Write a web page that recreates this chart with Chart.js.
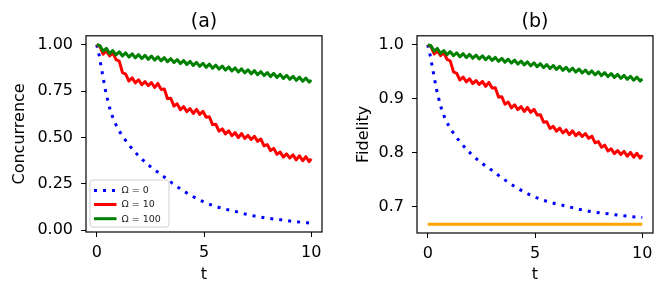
<!DOCTYPE html>
<html>
<head>
<meta charset="utf-8">
<script src="https://cdn.jsdelivr.net/npm/chart.js@4.4.0/dist/chart.umd.min.js"></script>
<style>
  html, body { margin: 0; padding: 0; background: #fff; }
  #wrap { position: relative; width: 665px; height: 297px; }
  canvas { position: absolute; top: 0; }
</style>
</head>
<body>
<div id="wrap">
  <canvas id="chartA" width="332" height="297" style="left:0"></canvas>
  <canvas id="chartB" width="333" height="297" style="left:332px"></canvas>
</div>
<script>
const FONT = 'DejaVu Sans';

// time grid for the oscillating curves
const tFast = [0,0.15,0.3,0.45,0.6,0.75,0.9,1.05,1.2,1.35,1.5,1.65,1.8,1.95,2.1,2.25,2.4,2.55,2.7,2.85,
  3,3.15,3.3,3.45,3.6,3.75,3.9,4.05,4.2,4.35,4.5,4.65,4.8,4.95,5.1,5.25,5.4,5.55,5.7,5.85,
  6,6.15,6.3,6.45,6.6,6.75,6.9,7.05,7.2,7.35,7.5,7.65,7.8,7.95,8.1,8.25,8.4,8.55,8.7,8.85,
  9,9.15,9.3,9.45,9.6,9.75,9.9,10];
// time grid for the smooth decay (Omega = 0)
const tSlow = [0,0.1,0.2,0.3,0.4,0.5,0.6,0.75,1,1.25,1.5,2,2.5,3,3.5,4,4.5,5,5.5,6,6.5,7,7.5,8,8.5,9,9.5,10];
const tLimit = [0, 10];

// (a) concurrence
const concOmega0 = [1.0,0.95,0.885,0.822,0.757,0.707,0.66,0.607,0.545,0.50,0.46,0.395,0.343,0.30,
  0.255,0.215,0.18,0.152,0.130,0.113,0.100,0.085,0.073,0.064,0.057,0.049,0.043,0.038];
const concOmega10 = [1.000,0.991,0.949,0.966,0.939,0.956,0.919,0.911,0.849,0.841,0.804,0.821,0.794,0.811,
  0.784,0.801,0.779,0.796,0.769,0.791,0.759,0.761,0.709,0.711,0.669,0.681,0.649,0.666,0.639,0.656,
  0.629,0.651,0.624,0.641,0.609,0.611,0.569,0.571,0.534,0.546,0.519,0.536,0.509,0.526,0.499,0.521,
  0.494,0.511,0.489,0.506,0.479,0.491,0.454,0.461,0.429,0.441,0.409,0.421,0.394,0.411,0.389,0.406,
  0.379,0.401,0.374,0.396,0.369,0.385];
const concOmega100 = [1.000,0.995,0.965,0.980,0.952,0.968,0.945,0.962,0.939,0.956,0.933,0.951,0.929,0.947,
  0.925,0.943,0.921,0.939,0.917,0.935,0.913,0.930,0.908,0.925,0.903,0.920,0.898,0.915,0.893,0.910,
  0.888,0.905,0.883,0.900,0.878,0.895,0.873,0.890,0.868,0.885,0.863,0.880,0.858,0.875,0.853,0.870,
  0.848,0.865,0.843,0.860,0.838,0.855,0.833,0.850,0.828,0.845,0.823,0.840,0.818,0.835,0.813,0.830,
  0.808,0.825,0.803,0.820,0.798,0.810];

// (b) fidelity
const fidOmega0 = [1.0,0.9833,0.9617,0.9407,0.919,0.9023,0.8867,0.869,0.8483,0.8333,0.82,0.7983,0.781,0.7667,
  0.7517,0.7383,0.7267,0.7173,0.71,0.7043,0.70,0.695,0.691,0.688,0.6857,0.683,0.681,0.6793];
const fidOmega10 = [1.0000,0.9970,0.9830,0.9887,0.9797,0.9853,0.9730,0.9703,0.9497,0.9470,0.9347,0.9403,
  0.9313,0.9370,0.9280,0.9337,0.9263,0.9320,0.9230,0.9303,0.9197,0.9203,0.9030,0.9037,0.8897,0.8937,
  0.8830,0.8887,0.8797,0.8853,0.8763,0.8837,0.8747,0.8803,0.8697,0.8703,0.8563,0.8570,0.8447,0.8487,
  0.8397,0.8453,0.8363,0.8420,0.8330,0.8403,0.8313,0.8370,0.8297,0.8353,0.8263,0.8303,0.8180,0.8203,
  0.8097,0.8137,0.8030,0.8070,0.7980,0.8037,0.7963,0.8020,0.7930,0.8003,0.7913,0.7987,0.7897,0.7950];
const fidOmega100 = [1.0000,0.9983,0.9883,0.9933,0.9840,0.9893,0.9817,0.9873,0.9797,0.9853,0.9777,0.9837,
  0.9763,0.9823,0.9750,0.9810,0.9737,0.9797,0.9723,0.9783,0.9710,0.9767,0.9693,0.9750,0.9677,0.9733,
  0.9660,0.9717,0.9643,0.9700,0.9627,0.9683,0.9610,0.9667,0.9593,0.9650,0.9577,0.9633,0.9560,0.9617,
  0.9543,0.9600,0.9527,0.9583,0.9510,0.9567,0.9493,0.9550,0.9477,0.9533,0.9460,0.9517,0.9443,0.9500,
  0.9427,0.9483,0.9410,0.9467,0.9393,0.9450,0.9377,0.9433,0.9360,0.9417,0.9343,0.9400,0.9327,0.9367];
const fidLimit = [0.6667, 0.6667];

const xTicks = [0, 5, 10];
const yTicksA = [0, 0.25, 0.5, 0.75, 1.0];
const yTicksB = [0.7, 0.8, 0.9, 1.0];
const legendLabels = ['\u03A9 = 0', '\u03A9 = 10', '\u03A9 = 100'];

const BLUE = '#0000ff', RED = '#ff0000', GREEN = '#008000', ORANGE = '#ffa500';

function line(label, xs, ys, color, extra) {
  return Object.assign({
    label: label,
    data: xs.map((x, i) => ({x: x, y: ys[i]})),
    borderColor: color,
    backgroundColor: color,
    borderWidth: 3,
    pointRadius: 0,
    fill: false,
    tension: 0,
    borderJoinStyle: 'round'
  }, extra || {});
}

const dotted = {borderDash: [3, 6], borderCapStyle: 'butt', cubicInterpolationMode: 'monotone'};

// black box round the plot, like matplotlib spines
const frame = {
  id: 'frame',
  afterDatasetsDraw(chart) {
    const {ctx, chartArea: a} = chart;
    ctx.save();
    ctx.strokeStyle = '#000';
    ctx.lineWidth = 1.2;
    ctx.strokeRect(a.left, a.top, a.right - a.left, a.bottom - a.top);
    ctx.restore();
  }
};

// legend drawn inside the plot, lower left
const insideLegend = {
  id: 'insideLegend',
  afterDraw(chart) {
    const {ctx, chartArea: a} = chart;
    const x = a.left + 4, w = 79, h = 47, y = a.bottom - 5 - h, r = 3;
    ctx.save();
    ctx.beginPath();
    ctx.moveTo(x + r, y);
    ctx.arcTo(x + w, y, x + w, y + h, r);
    ctx.arcTo(x + w, y + h, x, y + h, r);
    ctx.arcTo(x, y + h, x, y, r);
    ctx.arcTo(x, y, x + w, y, r);
    ctx.closePath();
    ctx.fillStyle = 'rgba(255,255,255,0.8)';
    ctx.fill();
    ctx.strokeStyle = '#d0d0d0';
    ctx.lineWidth = 1;
    ctx.stroke();

    const rows = [y + 10.5, y + 24.5, y + 38.7];
    chart.data.datasets.slice(0, 3).forEach((ds, i) => {
      ctx.beginPath();
      ctx.strokeStyle = ds.borderColor;
      ctx.lineWidth = 3;
      ctx.setLineDash(ds.borderDash || []);
      ctx.lineCap = 'butt';
      ctx.moveTo(x + 4, rows[i]);
      ctx.lineTo(x + 26.5, rows[i]);
      ctx.stroke();
      ctx.setLineDash([]);
      ctx.fillStyle = '#222';
      ctx.font = '9.5px "' + FONT + '"';
      ctx.textBaseline = 'middle';
      ctx.textAlign = 'left';
      ctx.fillText(legendLabels[i], x + 31.5, rows[i] + 0.5);
    });
    ctx.restore();
  }
};

function xScale(height) {
  return {
    type: 'linear',
    min: -0.5,
    max: 10.5,
    afterBuildTicks: s => { s.ticks = xTicks.map(v => ({value: v})); },
    afterFit: s => { s.height = height; },
    grid: {drawOnChartArea: false, drawTicks: true, tickLength: 5, tickColor: '#000', tickWidth: 1},
    border: {display: false},
    ticks: {
      color: '#000', padding: 6, maxRotation: 0, autoSkip: false,
      font: {family: FONT, size: 16},
      callback: v => String(v)
    },
    title: {display: true, text: 't', color: '#000', font: {family: FONT, size: 16}, padding: {top: 0, bottom: 13}}
  };
}

function yScale(min, max, ticks, digits, width, label, titlePad) {
  return {
    type: 'linear',
    min: min,
    max: max,
    afterBuildTicks: s => { s.ticks = ticks.map(v => ({value: v})); },
    afterFit: s => { s.width = width; },
    grid: {drawOnChartArea: false, drawTicks: true, tickLength: 5, tickColor: '#000', tickWidth: 1},
    border: {display: false},
    ticks: {
      color: '#000', padding: 8, autoSkip: false,
      font: {family: FONT, size: 16},
      callback: v => Number(v).toFixed(digits)
    },
    title: {display: true, text: label, color: '#000', font: {family: FONT, size: 16}, padding: {top: titlePad, bottom: 0}}
  };
}

function titleOpts(text) {
  return {
    display: true, text: text, color: '#000', fullSize: false,
    font: {family: FONT, size: 19, weight: 'normal'},
    padding: {top: 11, bottom: 2}
  };
}

new Chart(document.getElementById('chartA'), {
  type: 'line',
  data: {
    datasets: [
      line(legendLabels[0], tSlow, concOmega0, BLUE, Object.assign({order: 2}, dotted)),
      line(legendLabels[1], tFast, concOmega10, RED, {order: 1}),
      line(legendLabels[2], tFast, concOmega100, GREEN, {order: 0})
    ]
  },
  options: {
    responsive: false,
    animation: false,
    layout: {padding: {left: 0, right: 10, top: 0, bottom: 0}},
    scales: {
      x: xScale(65),
      y: yScale(-0.01, 1.048, yTicksA, 2, 86, 'Concurrence', 10)
    },
    plugins: {
      legend: {display: false},
      tooltip: {enabled: false},
      title: titleOpts('(a)')
    }
  },
  plugins: [frame, insideLegend]
});

new Chart(document.getElementById('chartB'), {
  type: 'line',
  data: {
    datasets: [
      line(legendLabels[0], tSlow, fidOmega0, BLUE, Object.assign({order: 2}, dotted)),
      line(legendLabels[1], tFast, fidOmega10, RED, {order: 1}),
      line(legendLabels[2], tFast, fidOmega100, GREEN, {order: 0}),
      line('limit', tLimit, fidLimit, ORANGE, {order: 3})
    ]
  },
  options: {
    responsive: false,
    animation: false,
    layout: {padding: {left: 0, right: 12, top: 0, bottom: 0}},
    scales: {
      x: xScale(64),
      y: yScale(0.6505, 1.0168, yTicksB, 1, 85, 'Fidelity', 22)
    },
    plugins: {
      legend: {display: false},
      tooltip: {enabled: false},
      title: titleOpts('(b)')
    }
  },
  plugins: [frame]
});
</script>
</body>
</html>
